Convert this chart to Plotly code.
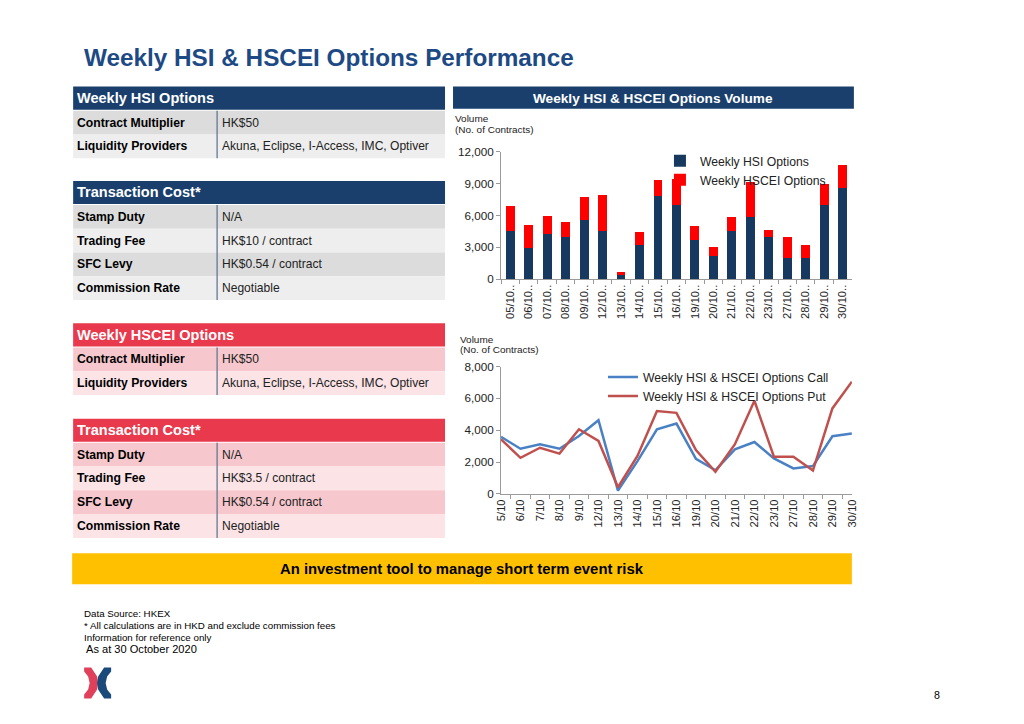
import plotly.graph_objects as go

# ---------------- DATA ----------------
bar_dates = ["05/10..", "06/10..", "07/10..", "08/10..", "09/10..", "12/10..", "13/10..",
             "14/10..", "15/10..", "16/10..", "19/10..", "20/10..", "21/10..", "22/10..",
             "23/10..", "27/10..", "28/10..", "29/10..", "30/10.."]
hsi_volume = [4500, 2900, 4250, 4000, 5550, 4500, 500, 3200, 7850, 7000, 3700, 2150,
              4500, 5900, 4000, 2000, 2000, 7000, 8550]
hscei_volume = [2400, 2250, 1750, 1400, 2150, 3450, 150, 1250, 1450, 2400, 1350, 850,
                1400, 3250, 650, 1950, 1250, 1950, 2200]

line_dates = ["5/10", "6/10", "7/10", "8/10", "9/10", "12/10", "13/10", "14/10", "15/10",
              "16/10", "19/10", "20/10", "21/10", "22/10", "23/10", "27/10", "28/10",
              "29/10", "30/10"]
call_volume = [3580, 2840, 3120, 2840, 3640, 4630, 210, 2060, 4060, 4420, 2210, 1490,
               2800, 3260, 2230, 1600, 1750, 3620, 3790]
put_volume = [3430, 2270, 2900, 2530, 4060, 3330, 420, 2380, 5200, 5090, 2760, 1390,
              3120, 5850, 2340, 2340, 1470, 5370, 7050]

bar_ticks = [0, 3000, 6000, 9000, 12000]
line_ticks = [0, 2000, 4000, 6000, 8000]

hsi_info = [("Contract Multiplier", "HK$50"),
            ("Liquidity Providers", "Akuna, Eclipse, I-Access, IMC, Optiver")]
hsi_cost = [("Stamp Duty", "N/A"), ("Trading Fee", "HK$10 / contract"),
            ("SFC Levy", "HK$0.54 / contract"), ("Commission Rate", "Negotiable")]
hscei_info = [("Contract Multiplier", "HK$50"),
              ("Liquidity Providers", "Akuna, Eclipse, I-Access, IMC, Optiver")]
hscei_cost = [("Stamp Duty", "N/A"), ("Trading Fee", "HK$3.5 / contract"),
              ("SFC Levy", "HK$0.54 / contract"), ("Commission Rate", "Negotiable")]

# ---------------- HELPERS ----------------
# Figure sits at (8, 8) inside the page (body margin); coordinates below are given in
# the target picture's pixels and mapped onto the figure's paper space.
OFF = 8
W, H = 1024 - 2 * OFF, 724 - 2 * OFF
SX, SY = 1024 / 1036, 724 / 740
FS = 1.0 / ((SX + SY) / 2)
FONT = "Liberation Sans, Arial, sans-serif"
NAVY = "#1a3f6c"
RED_H = "#e8394d"
BAR_BLUE = "#17395f"
BAR_RED = "#ff0000"
LINE_BLUE = "#4a80c4"
LINE_RED = "#c0504d"
AXIS = "#9a9a9a"


def page_x(x):
    return x / SX - 6


def page_y(y):
    return y / SY - 8


def px(x):
    return (page_x(x) - OFF) / W


def py(y):
    return 1 - (page_y(y) - OFF) / H


def fs(s):
    return round(s * FS, 2)


shapes = []
annotations = []


def rect(x0, y0, x1, y1, color):
    shapes.append(dict(type="rect", xref="paper", yref="paper", x0=px(x0), x1=px(x1),
                       y0=py(y1), y1=py(y0), fillcolor=color, line=dict(width=0),
                       layer="below"))


def text(x, y, s, size=11, color="black", bold=False, xanchor="left", family=FONT):
    annotations.append(dict(xref="paper", yref="paper", x=px(x), y=py(y),
                            text=("<b>%s</b>" % s) if bold else s, showarrow=False,
                            xanchor=xanchor, yanchor="middle",
                            font=dict(size=fs(size), color=color, family=family)))


def table(top, title, rows, head_color, dark, light, divider):
    x0, x1, xdiv = 73, 445, 217
    rect(x0, top, x1, top + 23, head_color)
    text(75, top + 11.5, title, size=14.3, color="white", bold=True)
    y = top + 24
    for i, (lab, val) in enumerate(rows):
        rect(x0, y, x1, y + 23.7, dark if i % 2 == 0 else light)
        text(75, y + 11.8, lab, size=12, bold=True)
        text(220, y + 11.8, val, size=11.85, color="#222222")
        y += 23.7
    shapes.append(dict(type="line", xref="paper", yref="paper", x0=px(xdiv), x1=px(xdiv),
                       y0=py(y), y1=py(top + 24), line=dict(color=divider, width=1.2)))


# ---------------- FIGURE ----------------
fig = go.Figure()

fig.add_trace(go.Bar(x=bar_dates, y=hsi_volume, name="Weekly HSI Options",
                     marker=dict(color=BAR_BLUE, line=dict(width=0)),
                     xaxis="x", yaxis="y", legend="legend"))
fig.add_trace(go.Bar(x=bar_dates, y=hscei_volume, name="Weekly HSCEI Options",
                     marker=dict(color=BAR_RED, line=dict(width=0)),
                     xaxis="x", yaxis="y", legend="legend"))

fig.add_trace(go.Scatter(x=line_dates, y=call_volume, mode="lines",
                         name="Weekly HSI & HSCEI Options Call",
                         line=dict(color=LINE_BLUE, width=2.5),
                         xaxis="x2", yaxis="y2", legend="legend2"))
fig.add_trace(go.Scatter(x=line_dates, y=put_volume, mode="lines",
                         name="Weekly HSI & HSCEI Options Put",
                         line=dict(color=LINE_RED, width=2.5),
                         xaxis="x2", yaxis="y2", legend="legend2"))

axis_common = dict(showline=True, linecolor=AXIS, linewidth=1, ticks="outside",
                   tickcolor=AXIS, ticklen=4, showgrid=False, zeroline=False,
                   tickfont=dict(family=FONT, size=fs(11.5), color="#222222"))
xtickfont = dict(family=FONT, size=fs(11), color="#222222")

# Tables (left)
table(87, "Weekly HSI Options", hsi_info, NAVY, "#dcdcdc", "#eeeeee", "#5a6f8c")
table(181, "Transaction Cost*", hsi_cost, NAVY, "#dcdcdc", "#eeeeee", "#5a6f8c")
table(323, "Weekly HSCEI Options", hscei_info, RED_H, "#f6c8cd", "#fbe3e6", "#5a6f8c")
table(418, "Transaction Cost*", hscei_cost, RED_H, "#f6c8cd", "#fbe3e6", "#5a6f8c")

# Bar chart header
rect(453, 87, 854, 109, NAVY)
text(653, 98.5, "Weekly HSI & HSCEI Options Volume", size=13.4, color="white", bold=True,
     xanchor="center")

# Axis titles
text(453, 118.5, "Volume", size=9.8, color="#222222")
text(453, 130, "(No. of Contracts)", size=9.8, color="#222222")
text(458, 339.5, "Volume", size=9.8, color="#222222")
text(458, 349.5, "(No. of Contracts)", size=9.8, color="#222222")

# Title
text(82, 58, "Weekly HSI &amp; HSCEI Options Performance", size=23.9, color="#1d4a84",
     bold=True)

# Yellow band
rect(72, 552, 852, 583, "#ffc000")
text(462, 568, "An investment tool to manage short term event risk", size=14.6,
     color="black", bold=True, xanchor="center")

# Footnotes
text(82, 612, "Data Source: HKEX", size=9.6)
text(82, 624, "* All calculations are in HKD and exclude commission fees", size=9.6)
text(82, 636, "Information for reference only", size=9.6)
text(84, 648, "As at 30 October 2020", size=10.9)
text(937, 693, "8", size=10.5, xanchor="center")


# Logo (HKEX mark)
def logo_path(pts):
    return "M " + " L ".join("%f,%f" % (px(a), py(b)) for a, b in pts) + " Z"


red_pts = [(84, 666), (91, 666), (97, 675), (98, 681.5), (97, 688), (91, 697), (84, 697),
           (84, 693), (88, 688), (89.5, 681.5), (88, 675), (84, 670)]
blue_pts = [(111, 666), (104, 666), (98, 675), (97, 681.5), (98, 688), (104, 697), (111, 697),
            (111, 693), (107, 688), (105.5, 681.5), (107, 675), (111, 670)]
shapes.append(dict(type="path", xref="paper", yref="paper", path=logo_path(red_pts),
                   fillcolor="#e0405a", line=dict(width=0)))
shapes.append(dict(type="path", xref="paper", yref="paper", path=logo_path(blue_pts),
                   fillcolor="#1a4a7a", line=dict(width=0)))

fig.update_layout(
    width=W, height=H, autosize=False,
    margin=dict(l=0, r=0, t=0, b=0),
    paper_bgcolor="white", plot_bgcolor="rgba(0,0,0,0)",
    font=dict(family=FONT, color="#222222"),
    barmode="stack", bargap=0.52,
    xaxis=dict(domain=[px(501), px(852)], anchor="y", tickangle=-90, tickson="boundaries",
               **{**axis_common, "tickfont": xtickfont}),
    yaxis=dict(domain=[py(279), py(152)], anchor="x", range=[0, 12000],
               tickvals=bar_ticks, tickformat=",d", **axis_common),
    xaxis2=dict(domain=[px(501), px(852)], anchor="y2", tickangle=-90, tickson="boundaries",
                **{**axis_common, "tickfont": xtickfont}),
    yaxis2=dict(domain=[py(493), py(366)], anchor="x2", range=[0, 8000],
                tickvals=line_ticks, tickformat=",d", **axis_common),
    legend=dict(x=px(660), y=py(146.5), xanchor="left", yanchor="top",
                bgcolor="rgba(0,0,0,0)", font=dict(family=FONT, size=fs(12), color="#222222"),
                traceorder="normal", itemclick=False),
    legend2=dict(x=px(603), y=py(362), xanchor="left", yanchor="top",
                 bgcolor="rgba(0,0,0,0)", font=dict(family=FONT, size=fs(12), color="#222222"),
                 traceorder="normal", itemclick=False),
    showlegend=True,
    shapes=shapes,
    annotations=annotations,
)

fig.write_html("out.html")
